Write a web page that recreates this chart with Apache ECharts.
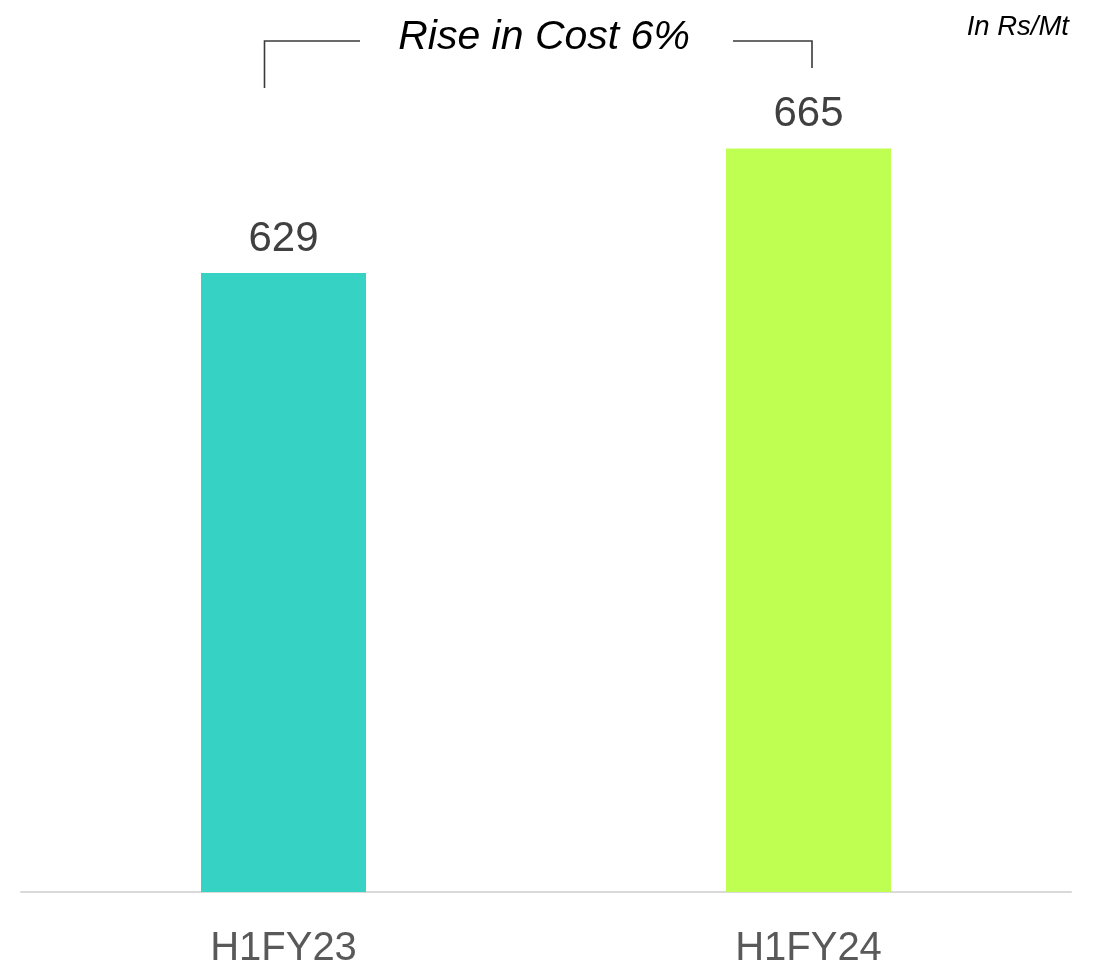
<!DOCTYPE html>
<html>
<head>
<meta charset="utf-8">
<script src="https://cdn.jsdelivr.net/npm/echarts@6/dist/echarts.min.js"></script>
<style>html,body{margin:0;padding:0;background:#fff;}#c{width:1099px;height:970px;}</style>
</head>
<body>
<div id="c"></div>
<script>
var categories = ['H1FY23', 'H1FY24'];
var values = [629, 665];
var barColors = ['#36d3c4', '#bfff52'];
var annotation = 'Rise in Cost 6%';
var unitLabel = 'In Rs/Mt';

var chart = echarts.init(document.getElementById('c'));
chart.setOption({
  animation: false,
  grid: { left: 21, right: 28, top: 27.5, bottom: 78 },
  xAxis: {
    type: 'category',
    data: categories,
    axisLine: { lineStyle: { color: '#d9d9d9', width: 2 } },
    axisTick: { show: false },
    axisLabel: { color: '#595959', fontSize: 40, fontFamily: 'Liberation Sans, Arial', margin: 37 }
  },
  yAxis: {
    type: 'value', min: 450, max: 700, show: false
  },
  series: [{
    type: 'bar',
    barWidth: 165,
    data: values.map(function (v, i) { return { value: v, itemStyle: { color: barColors[i] } }; }),
    label: {
      show: true, position: 'top', distance: 13,
      color: '#404040', fontSize: 42, fontFamily: 'Liberation Sans, Arial'
    }
  }],
  graphic: [
    { type: 'polyline', shape: { points: [[264.5, 88], [264.5, 41], [360, 41]] }, style: { stroke: '#3a3a3a', lineWidth: 1.6, fill: null } },
    { type: 'polyline', shape: { points: [[733, 41], [812, 41], [812, 68]] }, style: { stroke: '#3a3a3a', lineWidth: 1.6, fill: null } },
    { type: 'text', x: 544, y: 38, style: { text: annotation, fontSize: 41, fontStyle: 'italic', fontFamily: 'Liberation Sans, Arial', fill: '#000', textAlign: 'center', textVerticalAlign: 'middle' } },
    { type: 'text', x: 1069, y: 27.5, style: { text: unitLabel, fontSize: 27.5, fontStyle: 'italic', fontFamily: 'Liberation Sans, Arial', fill: '#000', textAlign: 'right', textVerticalAlign: 'middle' } }
  ]
});
</script>
</body>
</html>
